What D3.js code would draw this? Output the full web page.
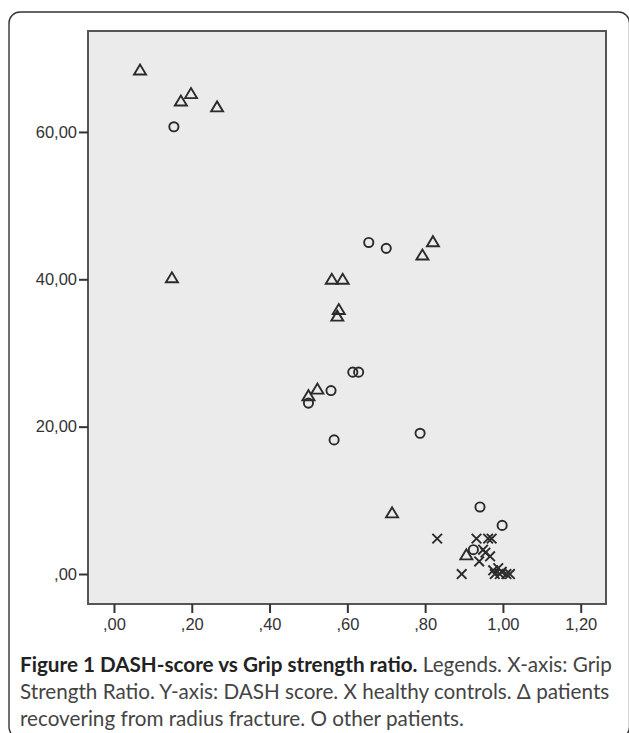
<!DOCTYPE html>
<html>
<head>
<meta charset="utf-8">
<script src="https://cdn.jsdelivr.net/npm/d3@7"></script>
<style>
  body { margin: 0; background: #fff; }
  svg { display: block; }
</style>
</head>
<body>
<div id="viz"></div>
<script>
// Grip strength ratio (x) and DASH score (y), one pair of arrays per group
var fractureX = [0.067, 0.172, 0.198, 0.265, 0.149, 0.560, 0.588, 0.578, 0.574, 0.523, 0.500, 0.793, 0.820, 0.715, 0.906]
var fractureY = [68.4, 64.2, 65.2, 63.4, 40.2, 40.0, 40.0, 35.9, 35.0, 25.1, 24.2, 43.3, 45.1, 8.3, 2.6]

var otherX = [0.154, 0.655, 0.700, 0.614, 0.629, 0.558, 0.500, 0.566, 0.787, 0.941, 0.998, 0.924]
var otherY = [60.7, 45.0, 44.2, 27.4, 27.4, 24.9, 23.2, 18.2, 19.1, 9.1, 6.6, 3.3]

var healthyX = [0.831, 0.932, 0.962, 0.971, 0.949, 0.967, 0.955, 0.939, 0.894, 0.975, 0.988, 0.997, 0.979, 0.992, 1.009, 1.018]
var healthyY = [4.8, 4.8, 4.8, 4.8, 3.3, 2.4, 2.9, 1.7, 0, 0.5, 0.8, 0.3, 0, 0, 0, 0]

var xTicks = [0, 0.2, 0.4, 0.6, 0.8, 1.0, 1.2]
var xTickLabels = [",00", ",20", ",40", ",60", ",80", "1,00", "1,20"]
var yTicks = [0, 20, 40, 60]
var yTickLabels = [",00", "20,00", "40,00", "60,00"]

var captionBold = "Figure 1 DASH-score vs Grip strength ratio."
var captionLines = [
    " Legends. X-axis: Grip",
    "Strength Ratio. Y-axis: DASH score. X healthy controls. \u0394 patients",
    "recovering from radius fracture. O other patients."
]

var W = 629, H = 733
var plot = {left: 88, right: 606, top: 31, bottom: 604}

var svg = d3.select("#viz")
    .append("svg")
    .attr("width", W)
    .attr("height", H)

// rounded frame round the whole figure (right and bottom edges run off the picture)
svg.append("rect")
    .attr("x", 9).attr("y", 12)
    .attr("width", 620.5).attr("height", 726)
    .attr("rx", 11)
    .style("fill", "none")
    .style("stroke", "#333")
    .style("stroke-width", 1.4)

var x = d3.scaleLinear().domain([-0.0668, 1.265]).range([plot.left, plot.right])
var y = d3.scaleLinear().domain([-4.07, 73.7]).range([plot.bottom, plot.top])

svg.append("rect")
    .attr("x", plot.left).attr("y", plot.top)
    .attr("width", plot.right - plot.left)
    .attr("height", plot.bottom - plot.top)
    .style("fill", "#ebebeb")
    .style("stroke", "#555")
    .style("stroke-width", 2)

// axes
var xAxis = d3.axisBottom(x)
    .tickValues(xTicks)
    .tickFormat((d, i) => xTickLabels[i])
    .tickSize(9).tickSizeOuter(0).tickPadding(5)

var yAxis = d3.axisLeft(y)
    .tickValues(yTicks)
    .tickFormat((d, i) => yTickLabels[i])
    .tickSize(9).tickSizeOuter(0).tickPadding(2)

var gx = svg.append("g")
    .attr("transform", "translate(0," + plot.bottom + ")")
    .call(xAxis)
var gy = svg.append("g")
    .attr("transform", "translate(" + plot.left + ",0)")
    .call(yAxis)

gx.select(".domain").remove()
gy.select(".domain").remove()
svg.selectAll(".tick line").style("stroke", "#333").style("stroke-width", 2)
svg.selectAll(".tick text")
    .style("font-family", "'Liberation Sans', Arial, sans-serif")
    .style("font-size", "16.5px")
    .style("fill", "#333")

// markers
var g = svg.append("g")
    .style("fill", "none")
    .style("stroke", "#2b2b2b")
    .style("stroke-width", 1.9)

var fracture = fractureX.map((d, i) => ({x: d, y: fractureY[i]}))
var other = otherX.map((d, i) => ({x: d, y: otherY[i]}))
var healthy = healthyX.map((d, i) => ({x: d, y: healthyY[i]}))

g.selectAll("path.tri")
    .data(fracture)
    .enter()
    .append("path")
    .attr("class", "tri")
    .attr("d", d => {
        var cx = x(d.x), cy = y(d.y)
        return "M" + (cx - 6) + "," + (cy + 4.5) + "L" + cx + "," + (cy - 5.5) + "L" + (cx + 6) + "," + (cy + 4.5) + "Z"
    })

g.selectAll("circle")
    .data(other)
    .enter()
    .append("circle")
    .attr("cx", d => x(d.x))
    .attr("cy", d => y(d.y))
    .attr("r", 4.6)

g.selectAll("path.cross")
    .data(healthy)
    .enter()
    .append("path")
    .attr("class", "cross")
    .attr("d", d => {
        var cx = x(d.x), cy = y(d.y), s = 4.8
        return "M" + (cx - s) + "," + (cy - s) + "L" + (cx + s) + "," + (cy + s) +
               "M" + (cx - s) + "," + (cy + s) + "L" + (cx + s) + "," + (cy - s)
    })

// caption
var cap = svg.append("g")
    .style("font-family", "Lato, 'Open Sans', sans-serif")
    .style("fill", "#222")

var line1 = cap.append("text").attr("x", 20).attr("y", 672)
line1.append("tspan").style("font-weight", "bold").text(captionBold)
line1.append("tspan").style("fill", "#444").text(captionLines[0])

var rest = captionLines.slice(1)
cap.selectAll("text.rest")
    .data(rest)
    .enter()
    .append("text")
    .attr("class", "rest")
    .attr("x", 20)
    .attr("y", (d, i) => 699 + i * 27)
    .style("fill", "#444")
    .text(d => d)

// fit the first caption line to the frame width
cap.style("font-size", "18px")
var w = line1.node().getComputedTextLength()
var fs = 18 * 592 / w
cap.style("font-size", fs + "px")
</script>
</body>
</html>
